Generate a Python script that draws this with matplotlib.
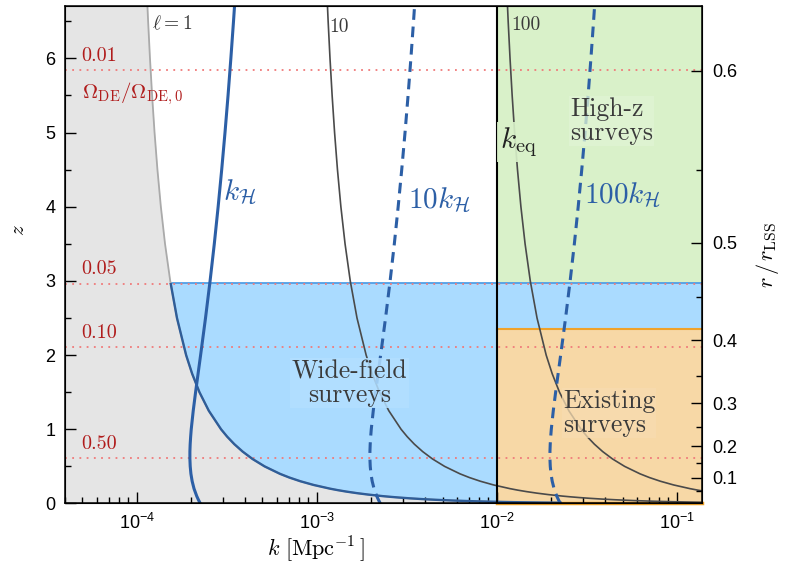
import numpy as np
import matplotlib.pyplot as plt
from matplotlib.patches import Rectangle
from matplotlib.ticker import MultipleLocator, FixedLocator, NullFormatter

plt.rcParams['font.family'] = ['Liberation Sans', 'DejaVu Sans']
plt.rcParams['mathtext.fontset'] = 'custom'
plt.rcParams['mathtext.rm'] = 'Liberation Sans'
plt.rcParams['mathtext.it'] = 'Liberation Sans:italic'
plt.rcParams['mathtext.bf'] = 'Liberation Sans:bold'

# comoving distance r(z) [Mpc] along the past light cone
z_dist = np.array([0.01, 0.0125, 0.015, 0.0175, 0.02, 0.025, 0.03, 0.035, 0.04, 0.05,
                   0.06, 0.07, 0.08, 0.09, 0.10, 0.12, 0.14, 0.16, 0.18, 0.20,
                   0.25, 0.30, 0.35, 0.40, 0.50, 0.60, 0.70, 0.80, 0.90, 1.00,
                   1.25, 1.50, 1.75, 2.00, 2.50, 3.00, 3.50, 4.00, 4.50, 5.00,
                   5.50, 6.00, 6.50, 7.00])
r_com = np.array([44.18, 55.19, 66.19, 77.18, 88.15, 110.07, 131.92, 153.73, 175.48, 218.84,
                  261.99, 304.94, 347.68, 390.21, 432.4, 516.6, 599.8, 682.2, 763.7, 843.4,
                  1040.6, 1232.3, 1418.7, 1599.8, 1946.1, 2272.3, 2579.1, 2868.1, 3139.9, 3396.2,
                  3974.4, 4478.7, 4919.1, 5310.8, 5970.1, 6508.4, 6956.3, 7337.6, 7665.6, 7953.3,
                  8206.4, 8433.0, 8636.2, 8820.3])
multipoles = [1, 10, 100]

# horizon wavenumber k_H = aH/c [Mpc^-1]
z_hub = np.array([0.0, 0.05, 0.1, 0.2, 0.3, 0.4, 0.5, 0.6, 0.7, 0.8, 0.9, 1.0, 1.25, 1.5,
                  1.75, 2.0, 2.5, 3.0, 3.5, 4.0, 4.5, 5.0, 5.5, 6.0, 6.5, 7.0])
k_hub = 1e-4 * np.array([2.258, 2.203, 2.156, 2.083, 2.034, 2.002, 1.984, 1.976, 1.976, 1.983,
                         1.995, 2.010, 2.062, 2.125, 2.194, 2.266, 2.413, 2.558, 2.700, 2.836,
                         2.968, 3.096, 3.219, 3.337, 3.452, 3.564])
hub_factors = [1, 10, 100]

# dark energy fraction Omega_DE/Omega_DE,0 and the redshift where it is reached
de_frac = ['0.01', '0.05', '0.10', '0.50']
de_z = [5.843, 2.964, 2.108, 0.616]

# survey regions
k_eq = 1e-2
z_wide = 2.97
z_exist = 2.35

# r/r_LSS axis: tick values and their redshifts
ratio_major = ['0.1', '0.2', '0.3', '0.4', '0.5', '0.6']
ratio_major_z = [0.344, 0.772, 1.352, 2.198, 3.511, 5.834]
ratio_minor_z = [0.164, 0.544, 1.037, 1.725, 2.777, 4.494]

c_gray = '#e5e5e5'
c_blue = '#aadbff'
c_green = '#d9f1c9'
c_orange = '#f7d8a6'
c_line = '#2c5fa6'
c_red = '#b01c1c'
c_text = '#3a3a3a'
serif = ['cmr10', 'DejaVu Serif']

fig = plt.figure(figsize=(7.87, 5.78), dpi=100)
ax = fig.add_axes([0.0826, 0.1289, 0.8100, 0.8607])
ax.set_xscale('log')
kmin, kmax = 4e-5, 0.139
zmax = 6.705
ax.set_xlim(kmin, kmax)
ax.set_ylim(0, zmax)

# shaded regions
ax.fill_between([kmin, kmax], 0, z_wide, color=c_blue, lw=0, zorder=0.2)
ax.fill_between([k_eq, kmax], z_wide, zmax, color=c_green, lw=0, zorder=0.3)
ax.fill_between([k_eq, kmax], 0, z_exist, color=c_orange, lw=0, zorder=0.3)
ax.plot([kmin, kmax], [z_wide, z_wide], color='#4f9fe6', lw=1.3, zorder=0.8)
ax.plot([k_eq, kmax], [z_exist, z_exist], color='#f0a22a', lw=1.5, zorder=0.8)
ax.plot([k_eq, kmax], [0, 0], color='#f0a22a', lw=2.5, zorder=0.8, clip_on=False)
k1 = multipoles[0] / r_com
ax.fill_betweenx(z_dist, kmin, k1, color=c_gray, lw=0, zorder=1)

# Omega_DE/Omega_DE,0 levels
for lab, zz in zip(de_frac, de_z):
    ax.axhline(zz, color='#f07a7a', lw=1.3, ls=(0, (1, 3)), zorder=2)
    ax.text(4.95e-5, zz + 0.19, lab, color=c_red, fontsize=14.5, family=serif,
            ha='left', va='center', zorder=6)
ax.text(4.95e-5, 5.53, r'$\Omega_{\rm DE}/\Omega_{\rm DE,0}$', color=c_red, fontsize=15,
        math_fontfamily='cm', ha='left', va='center', zorder=6)

# k = l / r(z)
ax.plot(k1, z_dist, color='#aaaaaa', lw=1.3, zorder=3)
edge, = ax.plot(k1, z_dist, color='#2f5d98', lw=1.7, zorder=3.1)
edge.set_clip_path(Rectangle((kmin, 0), kmax - kmin, z_wide, transform=ax.transData))
for ell in multipoles[1:]:
    ax.plot(ell / r_com, z_dist, color='#4a4a4a', lw=1.2, zorder=3)

# horizon scale
ax.plot(k_hub * hub_factors[0], z_hub, color=c_line, lw=2.2, zorder=4)
for f in hub_factors[1:]:
    ax.plot(k_hub * f, z_hub, color=c_line, lw=2.2, ls=(0, (3.5, 2.2)), zorder=4)

ax.axvline(k_eq, color='black', lw=1.5, zorder=5)

ax.text(1.21e-4, 6.47, r'$\ell = 1$', fontsize=14, color=c_text, math_fontfamily='cm',
        ha='left', va='center', zorder=6)
ax.text(1.18e-3, 6.42, '10', fontsize=14, color=c_text, family=serif,
        ha='left', va='center', zorder=6)
ax.text(1.21e-2, 6.45, '100', fontsize=14, color=c_text, family=serif,
        ha='left', va='center', zorder=6)

ax.text(3.0e-4, 4.2, r'$k_{\mathcal{H}}$', fontsize=21, color=c_line, math_fontfamily='cm',
        ha='left', va='center', zorder=6)
ax.text(3.2e-3, 4.09, r'$10k_{\mathcal{H}}$', fontsize=21, color=c_line, math_fontfamily='cm',
        ha='left', va='center', zorder=6)
ax.text(3.05e-2, 4.16, r'$100k_{\mathcal{H}}$', fontsize=21, color=c_line, math_fontfamily='cm',
        ha='left', va='center', zorder=6)

ax.text(1.04e-2, 4.87, r'$k_{\rm eq}$', fontsize=21, color='#222222', math_fontfamily='cm',
        ha='left', va='center', zorder=6,
        bbox=dict(fc=c_green, ec='none', alpha=0.9, pad=2))
ax.text(2.55e-2, 5.15, 'High-z\nsurveys', fontsize=18.5, color=c_text, family=serif,
        ha='left', va='center', multialignment='left', zorder=6, linespacing=1.0,
        bbox=dict(fc='#e0f4d4', ec='none', alpha=0.75, pad=1))
ax.text(1.52e-3, 1.62, 'Wide-field\nsurveys', fontsize=18.5, color=c_text, family=serif,
        ha='center', va='center', multialignment='center', zorder=6, linespacing=1.0,
        bbox=dict(fc='#b3dfff', ec='none', alpha=0.85, pad=1))
ax.text(2.33e-2, 1.22, 'Existing\nsurveys', fontsize=18.5, color=c_text, family=serif,
        ha='left', va='center', multialignment='left', zorder=6, linespacing=1.0,
        bbox=dict(fc='#f8dcb0', ec='none', alpha=0.75, pad=1))

# axes and ticks
ax.yaxis.set_major_locator(MultipleLocator(1))
ax.yaxis.set_minor_locator(MultipleLocator(0.5))
ax.tick_params(which='both', direction='in', top=False, right=False, labelsize=13, width=1)
ax.tick_params(which='major', length=8, pad=7)
ax.tick_params(which='minor', length=4)
for s in ax.spines.values():
    s.set_linewidth(1.1)
    s.set_zorder(7)

ax.set_xlabel(r'$k\ [\mathrm{Mpc}^{-1}\,]$', fontsize=16, math_fontfamily='cm')
ax.xaxis.set_label_coords(0.394, -0.062)
ax.set_ylabel(r'$z$', fontsize=15, math_fontfamily='cm')
ax.yaxis.set_label_coords(-0.058, 0.55)

ax2 = ax.twinx()
ax2.set_ylim(0, zmax)
ax2.yaxis.set_major_locator(FixedLocator(ratio_major_z))
ax2.set_yticklabels(ratio_major)
ax2.yaxis.set_minor_locator(FixedLocator(ratio_minor_z))
ax2.yaxis.set_minor_formatter(NullFormatter())
ax2.tick_params(which='both', direction='in', labelsize=13, width=1)
ax2.tick_params(which='major', length=8, pad=7)
ax2.tick_params(which='minor', length=4)
ax2.set_ylabel(r'$r\,/\,r_{\rm LSS}$', fontsize=16, math_fontfamily='cm', labelpad=12)

fig.savefig('out.png', dpi=100)
